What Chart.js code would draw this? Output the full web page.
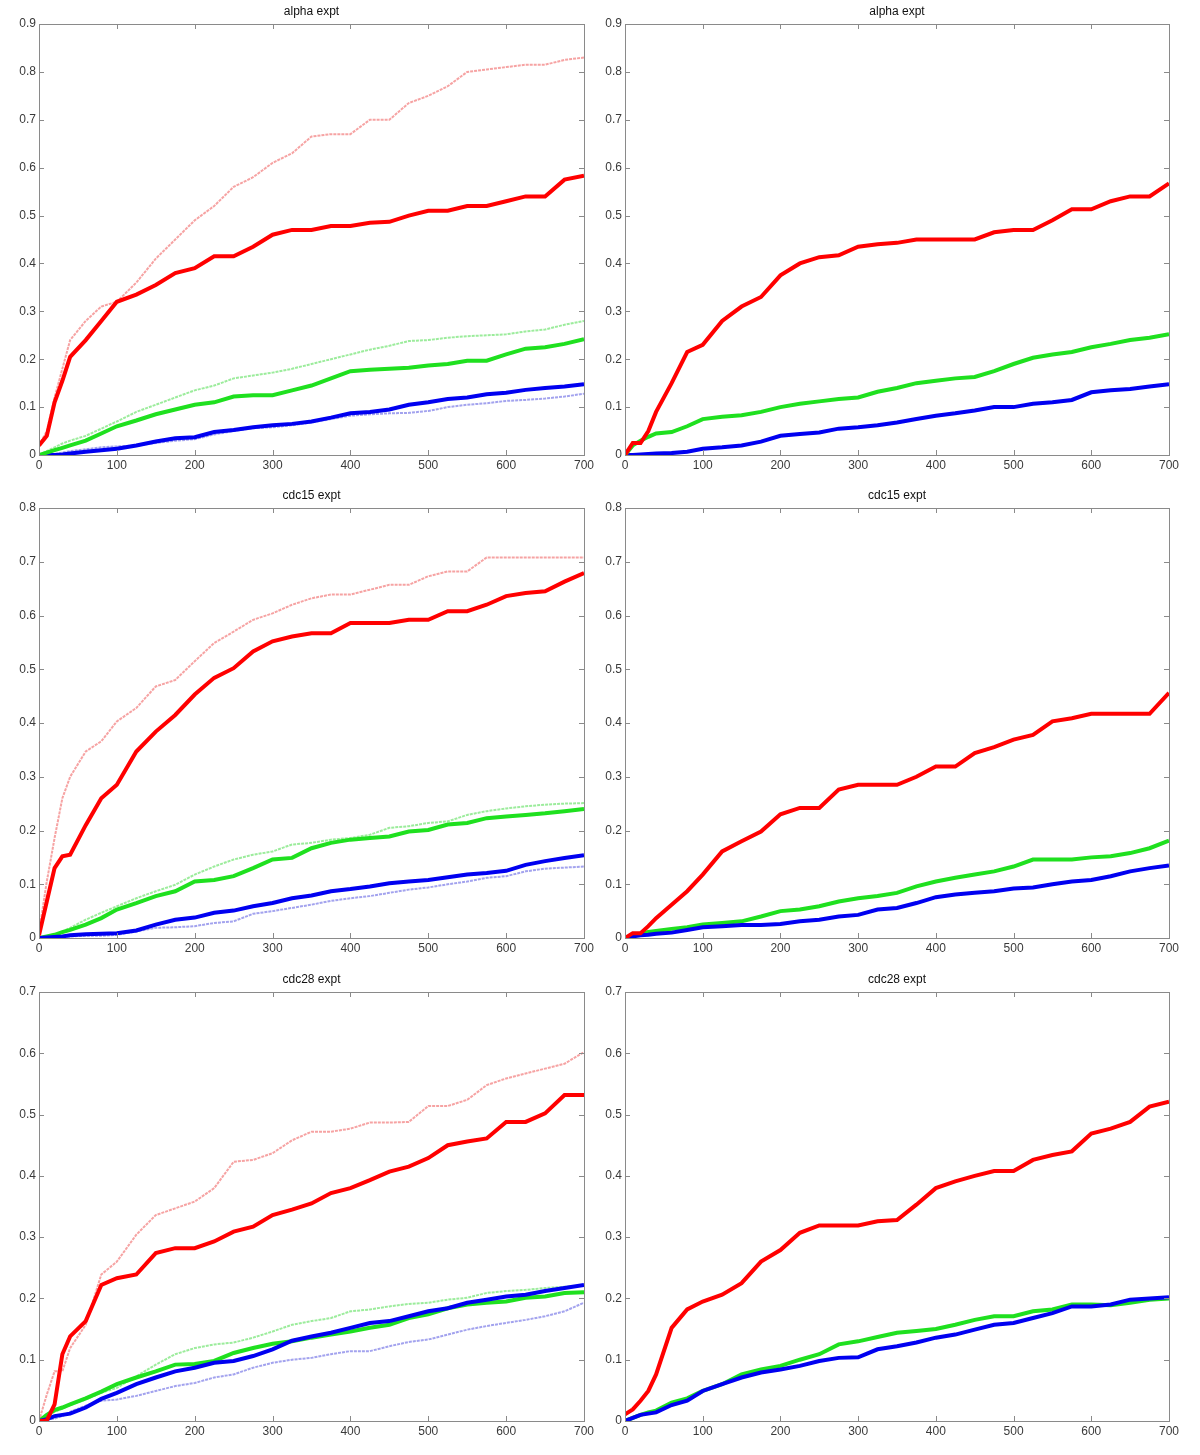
<!DOCTYPE html>
<html>
<head>
<meta charset="utf-8">
<script src="https://cdn.jsdelivr.net/npm/chart.js@4.4.1/dist/chart.umd.min.js"></script>
<style>
  body { margin: 0; background: #fff; }
  #wrap { position: relative; width: 1200px; height: 1455px; }
  canvas { position: absolute; }
</style>
</head>
<body>
<div id="wrap">
  <canvas id="p1" width="600" height="485" style="left:0px;top:0px"></canvas>
  <canvas id="p2" width="600" height="485" style="left:586px;top:0px"></canvas>
  <canvas id="p3" width="600" height="484" style="left:0px;top:484px"></canvas>
  <canvas id="p4" width="600" height="484" style="left:586px;top:484px"></canvas>
  <canvas id="p5" width="600" height="483" style="left:0px;top:968px"></canvas>
  <canvas id="p6" width="600" height="483" style="left:586px;top:968px"></canvas>
</div>
<script>
const xs = [0,10,20,30,40,60,80,100,125,150,175,200,225,250,275,300,325,350,375,400,425,450,475,500,525,550,575,600,625,650,675,700];

// alpha expt, left
const p1LightRed = [0.02,0.05,0.12,0.18,0.24,0.28,0.31,0.32,0.36,0.41,0.45,0.49,0.52,0.56,0.58,0.61,0.63,0.665,0.67,0.67,0.70,0.70,0.735,0.75,0.77,0.80,0.805,0.81,0.815,0.815,0.825,0.83];
const p1Red = [0.02,0.04,0.11,0.155,0.205,0.24,0.28,0.32,0.335,0.355,0.38,0.39,0.415,0.415,0.435,0.46,0.47,0.47,0.478,0.478,0.485,0.487,0.50,0.51,0.51,0.52,0.52,0.53,0.54,0.54,0.575,0.583];
const p1LightGreen = [0,0.008,0.016,0.024,0.03,0.04,0.055,0.07,0.09,0.105,0.12,0.135,0.145,0.16,0.166,0.172,0.18,0.19,0.2,0.21,0.22,0.228,0.238,0.24,0.245,0.248,0.25,0.252,0.258,0.262,0.272,0.28];
const p1Green = [0,0.005,0.01,0.015,0.02,0.03,0.045,0.06,0.072,0.085,0.095,0.105,0.11,0.122,0.125,0.125,0.135,0.145,0.16,0.175,0.178,0.18,0.182,0.187,0.19,0.197,0.197,0.21,0.222,0.225,0.232,0.242];
const p1Blue = [0,0,0,0.001,0.003,0.007,0.01,0.013,0.02,0.028,0.035,0.037,0.048,0.052,0.058,0.062,0.065,0.07,0.078,0.087,0.09,0.095,0.105,0.11,0.117,0.12,0.127,0.13,0.136,0.14,0.143,0.148];
const p1LightBlue = [0,0,0.002,0.005,0.008,0.012,0.016,0.018,0.02,0.025,0.03,0.033,0.043,0.05,0.056,0.058,0.062,0.068,0.075,0.082,0.085,0.087,0.088,0.092,0.1,0.105,0.108,0.113,0.115,0.118,0.122,0.128];

// alpha expt, right
const p2Red = [0,0.025,0.025,0.05,0.09,0.15,0.215,0.23,0.28,0.31,0.33,0.375,0.40,0.413,0.417,0.435,0.44,0.443,0.45,0.45,0.45,0.45,0.465,0.47,0.47,0.49,0.513,0.513,0.53,0.54,0.54,0.567];
const p2Green = [0,0.02,0.03,0.038,0.045,0.048,0.06,0.075,0.08,0.083,0.09,0.1,0.107,0.112,0.117,0.12,0.132,0.14,0.15,0.155,0.16,0.163,0.175,0.19,0.203,0.21,0.215,0.225,0.232,0.24,0.245,0.252];
const p2Blue = [0,0,0.001,0.002,0.003,0.004,0.007,0.013,0.016,0.02,0.028,0.04,0.044,0.047,0.055,0.058,0.062,0.068,0.075,0.082,0.087,0.093,0.1,0.1,0.107,0.11,0.115,0.131,0.135,0.138,0.143,0.148];

// cdc15 expt, left
const p3LightRed = [0.01,0.105,0.186,0.26,0.3,0.347,0.366,0.403,0.428,0.468,0.48,0.515,0.549,0.57,0.592,0.604,0.62,0.632,0.639,0.639,0.648,0.657,0.657,0.673,0.682,0.682,0.708,0.708,0.708,0.708,0.708,0.708];
const p3Red = [0.005,0.068,0.13,0.152,0.155,0.21,0.26,0.285,0.347,0.384,0.415,0.453,0.484,0.502,0.533,0.552,0.561,0.567,0.567,0.586,0.586,0.586,0.592,0.592,0.608,0.608,0.62,0.636,0.642,0.645,0.663,0.679];
const p3LightGreen = [0,0.003,0.006,0.012,0.019,0.034,0.047,0.059,0.074,0.087,0.099,0.118,0.133,0.146,0.155,0.161,0.174,0.177,0.183,0.186,0.192,0.205,0.208,0.214,0.217,0.229,0.236,0.241,0.245,0.248,0.25,0.251];
const p3Green = [0,0.003,0.006,0.011,0.015,0.025,0.037,0.053,0.065,0.078,0.087,0.105,0.108,0.115,0.13,0.146,0.149,0.167,0.177,0.183,0.186,0.189,0.198,0.201,0.211,0.214,0.223,0.226,0.229,0.232,0.236,0.24];
const p3Blue = [0,0.001,0.002,0.003,0.005,0.007,0.008,0.009,0.014,0.025,0.034,0.038,0.047,0.051,0.059,0.065,0.074,0.079,0.087,0.091,0.096,0.102,0.105,0.108,0.113,0.118,0.121,0.125,0.136,0.143,0.149,0.154];
const p3LightBlue = [0,0,0.001,0.002,0.003,0.004,0.004,0.006,0.012,0.019,0.02,0.022,0.028,0.031,0.045,0.05,0.056,0.062,0.069,0.074,0.078,0.084,0.09,0.094,0.1,0.105,0.112,0.115,0.124,0.129,0.131,0.133];

// cdc15 expt, right
const p4Red = [0,0.009,0.009,0.022,0.037,0.062,0.087,0.118,0.161,0.18,0.198,0.23,0.242,0.242,0.276,0.285,0.285,0.285,0.3,0.319,0.319,0.344,0.355,0.369,0.378,0.403,0.409,0.417,0.417,0.417,0.417,0.456];
const p4Green = [0,0.004,0.008,0.011,0.013,0.017,0.02,0.025,0.028,0.031,0.04,0.05,0.053,0.059,0.068,0.074,0.078,0.084,0.096,0.105,0.112,0.118,0.124,0.133,0.146,0.146,0.146,0.15,0.152,0.158,0.167,0.181];
const p4Blue = [0,0.003,0.005,0.006,0.008,0.01,0.015,0.02,0.022,0.024,0.024,0.026,0.031,0.034,0.04,0.043,0.053,0.056,0.065,0.076,0.081,0.084,0.087,0.092,0.094,0.1,0.105,0.108,0.115,0.124,0.13,0.135];

// cdc28 expt, left
const p5LightRed = [0,0.043,0.081,0.081,0.119,0.157,0.239,0.26,0.304,0.336,0.347,0.358,0.38,0.423,0.426,0.437,0.458,0.472,0.472,0.477,0.487,0.487,0.488,0.514,0.514,0.524,0.548,0.559,0.567,0.575,0.583,0.602];
const p5Red = [0,0.001,0.027,0.109,0.138,0.163,0.222,0.233,0.239,0.274,0.282,0.282,0.293,0.309,0.317,0.336,0.345,0.355,0.372,0.38,0.393,0.407,0.415,0.429,0.45,0.456,0.461,0.488,0.488,0.502,0.532,0.532];
const p5LightGreen = [0,0.008,0.015,0.02,0.026,0.035,0.046,0.054,0.073,0.092,0.109,0.119,0.125,0.128,0.136,0.146,0.157,0.163,0.168,0.179,0.182,0.187,0.191,0.193,0.198,0.201,0.209,0.212,0.214,0.217,0.219,0.221];
const p5Green = [0,0.01,0.018,0.022,0.027,0.037,0.048,0.06,0.071,0.081,0.092,0.093,0.098,0.111,0.119,0.126,0.13,0.136,0.141,0.146,0.152,0.157,0.168,0.174,0.184,0.19,0.193,0.195,0.201,0.203,0.209,0.21];
const p5Blue = [0,0.003,0.008,0.01,0.012,0.022,0.036,0.046,0.06,0.071,0.081,0.087,0.095,0.098,0.106,0.117,0.131,0.138,0.144,0.152,0.16,0.163,0.171,0.179,0.184,0.193,0.198,0.203,0.206,0.212,0.217,0.222];
const p5LightBlue = [0,0.002,0.004,0.008,0.015,0.025,0.033,0.035,0.041,0.049,0.057,0.062,0.071,0.076,0.087,0.095,0.1,0.103,0.109,0.114,0.114,0.122,0.129,0.133,0.141,0.149,0.155,0.16,0.165,0.171,0.179,0.193];

// cdc28 expt, right
const p6Red = [0.011,0.019,0.033,0.049,0.076,0.152,0.182,0.195,0.206,0.225,0.26,0.279,0.307,0.319,0.319,0.319,0.326,0.328,0.353,0.38,0.391,0.4,0.408,0.408,0.426,0.434,0.44,0.469,0.477,0.488,0.513,0.521];
const p6Green = [0,0.005,0.01,0.014,0.017,0.03,0.037,0.049,0.06,0.076,0.084,0.09,0.1,0.109,0.125,0.13,0.137,0.144,0.147,0.15,0.157,0.165,0.171,0.171,0.179,0.182,0.19,0.19,0.189,0.193,0.198,0.2];
const p6Blue = [0,0.005,0.01,0.012,0.014,0.026,0.033,0.049,0.06,0.071,0.079,0.084,0.09,0.098,0.103,0.104,0.117,0.122,0.128,0.136,0.141,0.149,0.157,0.16,0.168,0.176,0.187,0.187,0.19,0.198,0.2,0.202];

const titles = ['alpha expt', 'alpha expt', 'cdc15 expt', 'cdc15 expt', 'cdc28 expt', 'cdc28 expt'];
const yMax = [0.9, 0.9, 0.8, 0.8, 0.7, 0.7];

const RED = '#ff0000', GREEN = '#1fe01f', BLUE = '#0000f0';
const LRED = '#f6a3a3', LGREEN = '#9cec9c', LBLUE = '#a3a3ee';

function pts(ys) {
  return ys.map((y, i) => ({ x: xs[i], y: y }));
}
function thick(ys, c) {
  return { data: pts(ys), borderColor: c, borderWidth: 4, pointRadius: 0, tension: 0 };
}
function thin(ys, c) {
  return { data: pts(ys), borderColor: c, borderWidth: 2, borderDash: [3, 1], pointRadius: 0, tension: 0 };
}

// dark lines first so they are drawn on top
const panelSets = [
  [thick(p1Red, RED), thick(p1Green, GREEN), thick(p1Blue, BLUE), thin(p1LightRed, LRED), thin(p1LightGreen, LGREEN), thin(p1LightBlue, LBLUE)],
  [thick(p2Red, RED), thick(p2Green, GREEN), thick(p2Blue, BLUE)],
  [thick(p3Red, RED), thick(p3Blue, BLUE), thick(p3Green, GREEN), thin(p3LightRed, LRED), thin(p3LightGreen, LGREEN), thin(p3LightBlue, LBLUE)],
  [thick(p4Red, RED), thick(p4Blue, BLUE), thick(p4Green, GREEN)],
  [thick(p5Red, RED), thick(p5Blue, BLUE), thick(p5Green, GREEN), thin(p5LightRed, LRED), thin(p5LightGreen, LGREEN), thin(p5LightBlue, LBLUE)],
  [thick(p6Red, RED), thick(p6Blue, BLUE), thick(p6Green, GREEN)]
];

// matlab-like box with inward ticks and a small title over the plot area
const boxPlugin = {
  id: 'box',
  afterDraw(chart, args, opts) {
    const { ctx, chartArea: a, scales } = chart;
    ctx.save();
    ctx.strokeStyle = '#8a8a8a';
    ctx.lineWidth = 1;
    ctx.strokeRect(Math.round(a.left) + 0.5, Math.round(a.top) + 0.5, Math.round(a.right - a.left), Math.round(a.bottom - a.top));
    ctx.beginPath();
    scales.x.ticks.forEach(t => {
      const px = Math.round(scales.x.getPixelForValue(t.value)) + 0.5;
      ctx.moveTo(px, a.bottom); ctx.lineTo(px, a.bottom - 5);
      ctx.moveTo(px, a.top); ctx.lineTo(px, a.top + 5);
    });
    scales.y.ticks.forEach(t => {
      const py = Math.round(scales.y.getPixelForValue(t.value)) + 0.5;
      ctx.moveTo(a.left, py); ctx.lineTo(a.left + 5, py);
      ctx.moveTo(a.right, py); ctx.lineTo(a.right - 5, py);
    });
    ctx.stroke();
    ctx.fillStyle = '#111';
    ctx.font = '12px "Liberation Sans", Arial, sans-serif';
    ctx.textAlign = 'center';
    ctx.textBaseline = 'middle';
    ctx.fillText(opts.text, (a.left + a.right) / 2, a.top - 12);
    ctx.restore();
  }
};

const tickFont = { family: '"Liberation Sans", Arial, sans-serif', size: 12 };

panelSets.forEach((sets, i) => {
  new Chart(document.getElementById('p' + (i + 1)), {
    type: 'line',
    data: { datasets: sets },
    options: {
      responsive: false,
      animation: false,
      layout: { padding: { top: 24, right: i % 2 === 0 ? 16 : 17, left: 0, bottom: 0 } },
      plugins: { legend: { display: false }, tooltip: { enabled: false }, box: { text: titles[i] } },
      scales: {
        x: {
          type: 'linear', min: 0, max: 700,
          grid: { display: false, drawTicks: false },
          border: { display: false },
          ticks: { stepSize: 100, color: '#3a3a3a', font: tickFont, padding: 3, maxRotation: 0 },
          afterFit(s) { s.height = 30; }
        },
        y: {
          min: 0, max: yMax[i],
          grid: { display: false, drawTicks: false },
          border: { display: false },
          ticks: { stepSize: 0.1, color: '#3a3a3a', font: tickFont, padding: 3 },
          afterFit(s) { s.width = 39; }
        }
      }
    },
    plugins: [boxPlugin]
  });
});
</script>
</body>
</html>
